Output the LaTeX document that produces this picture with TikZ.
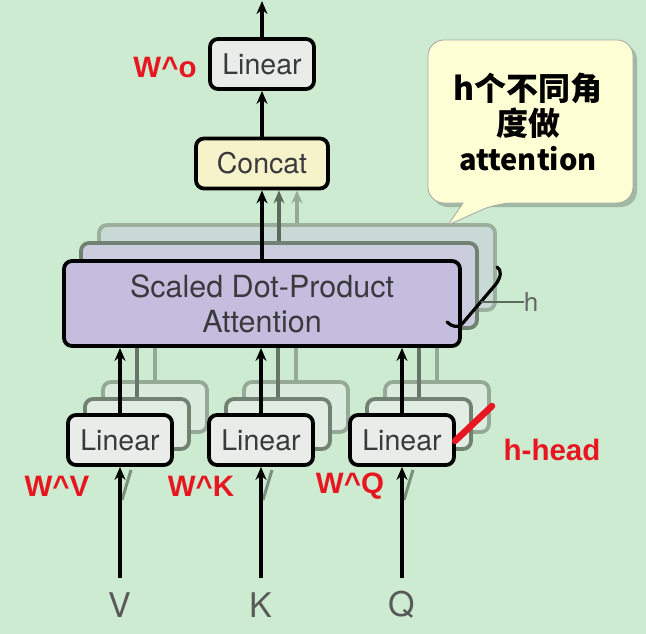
\documentclass[tikz,border=0pt]{standalone}
\usepackage{fontspec}
\setmainfont{TeX Gyre Heros}
\newfontfamily\redfont{Liberation Sans}
\newfontfamily\cjk{Noto Sans CJK SC}
\usetikzlibrary{arrows.meta,shapes.callouts,shadows}
\definecolor{bg}{RGB}{205,235,208}
\definecolor{lingray}{RGB}{234,236,234}
\definecolor{concatyel}{RGB}{246,242,202}
\definecolor{lav}{RGB}{196,189,222}
\definecolor{txtgray}{RGB}{58,58,62}
\definecolor{redlab}{RGB}{232,22,32}
\definecolor{bubble}{RGB}{255,255,214}
\tikzset{
  boxbase/.style={line width=3.8pt, rounded corners=8pt, inner sep=0pt},
  frontbox/.style={boxbase, draw=black, text=txtgray, font=\fontsize{28.5}{34}\selectfont},
  linbox/.style={frontbox, fill=lingray, minimum width=104pt, minimum height=50pt},
  linbackA/.style={boxbase, draw=black!45!bg, fill=lingray!70!bg, minimum width=104pt, minimum height=50pt},
  linbackB/.style={boxbase, draw=black!28!bg, fill=lingray!50!bg, minimum width=104pt, minimum height=50pt},
  sdpabackA/.style={boxbase, draw=black!45!bg, fill=lav!80!bg!90!white, minimum width=396pt, minimum height=85pt},
  sdpabackB/.style={boxbase, draw=black!25!bg, fill=lav!40!bg, minimum width=396pt, minimum height=85pt},
  arr/.style={line width=3.5pt, -{Stealth[length=13pt,width=11pt]}},
  grayarr/.style={line width=3.5pt, draw=black!55!bg, -{Stealth[length=13pt,width=11pt]}},
  lightarr/.style={line width=3.5pt, draw=black!28!bg, -{Stealth[length=13pt,width=11pt]}},
  grayline/.style={line width=3.5pt, draw=black!50!bg},
  lightline/.style={line width=3.5pt, draw=black!28!bg},
  redtxt/.style={text=redlab, font=\redfont\bfseries\fontsize{29.5}{30}\selectfont, inner sep=0pt},
  inlab/.style={text=black!65, font=\fontsize{34}{36}\selectfont, inner sep=0pt},
  diag/.style={line width=3pt, draw=black!40!bg},
}
\begin{document}
\begin{tikzpicture}[x=1pt,y=-1pt]
\useasboundingbox (0,0) rectangle (646,634);
\fill[bg] (0,0) rectangle (646,634);

% ---- scaled dot-product attention stack
\node[sdpabackB] (sdpa3) at (297,267.5) {};
\node[sdpabackA] (sdpa2) at (279,285.5) {};
\node[frontbox, fill=lav, minimum width=396pt, minimum height=85pt, align=center,
      font=\fontsize{30.5}{35}\selectfont] (sdpa) at (262,303.5)
  {Scaled Dot-Product\\Attention};

% ---- top part
\node[frontbox, fill=concatyel, minimum width=132pt, minimum height=50pt] (concat) at (262,163.5) {Concat};
\node[linbox] (lino) at (262,64) {Linear};
\coordinate (top) at (262,1);
\draw[arr] (lino.north) -- (top);
\draw[arr] (concat.north) -- (lino.south);
\draw[lightarr] (sdpa3.north) -- (sdpa3.north |- concat.south);
\draw[grayarr] (sdpa2.north) -- (sdpa2.north |- concat.south);
\draw[arr] (sdpa.north) -- (concat.south);

% ---- h brace
\draw[line width=3.2pt, line cap=round, line join=round, black]
  (447,322) .. controls (452,327) and (458,328) .. (462,324) -- (496,284)
  .. controls (501,277) and (502,270) .. (497,267);
\coordinate (hb) at (481,302);
\node[text=black!60, font=\fontsize{26}{28}\selectfont, inner sep=0pt] (hl) at (531,302) {h};
\draw[line width=2.8pt, black!55!bg] (hb) -- (hl.west);

% ---- linear heads (V, K, Q)
\foreach \n/\x in {v/120,k/261,q/402}{
  \node[linbackB] (\n3) at (\x+35,407) {};
  \draw[lightline] (\n3.north) -- (\n3.north |- sdpa.south);
  \node[linbackA] (\n2) at (\x+17,424) {};
  \draw[grayline] (\n2.north) -- (\n2.north |- sdpa.south);
  \node[linbox] (\n) at (\x,440) {Linear};
  \draw[arr] (\n.north) -- (\n.north |- sdpa.south);
  \coordinate (\n in) at (\x,578);
  \coordinate (\n d1) at (\x+2,500);
  \coordinate (\n d2) at (\x+11,470);
  \draw[diag] (\n d1) -- (\n d2);
  \draw[arr] (\n in) -- (\n.south);
}
\node[inlab] (lv) at (120,605) {V};
\node[inlab] (lk) at (261,605) {K};
\node[inlab] (lq) at (402,605) {Q};

% ---- callout
\fill[black!35!bg, opacity=0.6, rounded corners=16pt] (432,44) rectangle (637,207);
\draw[draw=black!35, line width=0.8pt, fill=bubble, rounded corners=16pt]
  (428,40) -- (633,40) -- (633,203) -- (497,203) [sharp corners] -- (448,225) -- (463,203)
  [rounded corners=16pt] -- (428,203) -- cycle;
\node[font=\cjk\bfseries\fontsize{32}{35}\selectfont, align=center, inner sep=0pt] (note) at (528,122)
  {h个不同角\\度做\\{\fontsize{29}{35}\selectfont attention}};

% ---- red annotations
\node[redtxt] (wo) at (165,67) {W\textasciicircum o};
\node[redtxt] (wv) at (57,486) {W\textasciicircum V};
\node[redtxt] (wk) at (201,486) {W\textasciicircum K};
\node[redtxt] (wq) at (350,486) {W\textasciicircum Q};
\node[redtxt] (hh) at (552,450) {h-head};
\coordinate (rs1) at (455,441);
\coordinate (rs2) at (492,406);
\draw[redlab, line width=6.5pt, line cap=round] (rs1) -- (rs2);
\end{tikzpicture}
\end{document}
